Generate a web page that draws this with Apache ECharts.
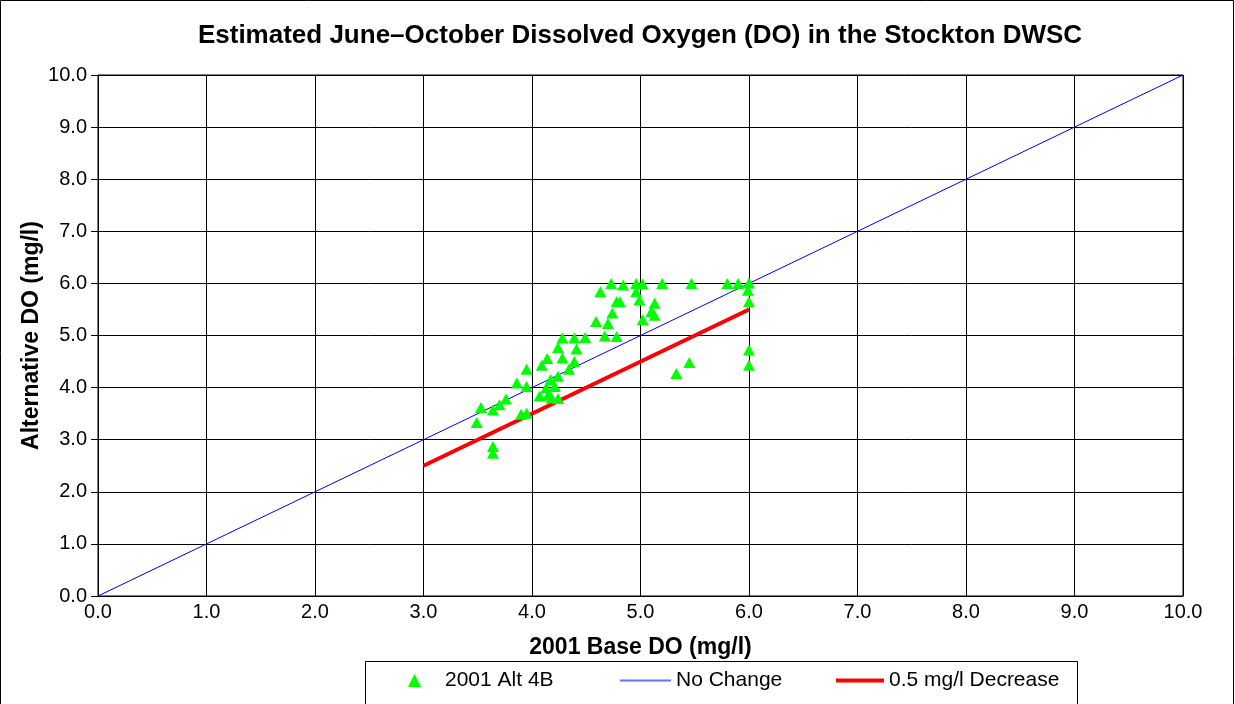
<!DOCTYPE html>
<html>
<head>
<meta charset="utf-8">
<script src="https://cdn.jsdelivr.net/npm/echarts@6/dist/echarts.min.js"></script>
<style>
  html, body { margin: 0; padding: 0; background: #fff; }
  #chart { width: 1235px; height: 704px; }
</style>
</head>
<body>
<div id="chart"></div>
<script>
// Axis tick values (mg/l)
const axisTicks = [0, 1, 2, 3, 4, 5, 6, 7, 8, 9, 10];

// 2001 Alt 4B: base DO (x) vs alternative DO (y)
const altBase = [
  4.73, 4.63, 4.78, 4.74, 4.59, 4.70, 4.67, 4.78, 4.49, 4.39,
  4.28, 4.24, 4.41, 4.28, 4.14, 4.09, 4.39, 4.34, 4.24, 3.95,
  3.86, 3.95, 4.17, 4.13, 4.21, 4.07, 4.15, 4.24, 4.18, 3.76,
  3.70, 3.64, 3.53, 3.49, 3.90, 3.95, 3.64, 3.64,
  4.84, 4.96, 5.02, 5.20, 5.47, 5.80, 5.90, 6.00, 5.99, 4.96,
  4.99, 4.81, 5.13, 5.10, 5.13, 5.02, 6.00, 6.00, 5.45, 5.33,
  6.00
];
const altValue = [
  6.00, 5.84, 5.65, 5.43, 5.27, 5.23, 4.99, 4.98, 4.96, 4.95,
  4.95, 4.77, 4.74, 4.57, 4.56, 4.43, 4.50, 4.35, 4.22, 4.35,
  4.09, 4.02, 4.15, 3.99, 4.02, 3.84, 3.86, 3.79, 3.80, 3.78,
  3.67, 3.57, 3.62, 3.33, 3.49, 3.51, 2.87, 2.74,
  5.97, 6.00, 5.99, 6.00, 6.00, 6.00, 6.00, 6.01, 5.87, 5.84,
  5.68, 5.65, 5.62, 5.46, 5.39, 5.30, 4.72, 4.43, 4.48, 4.27,
  5.65
];

// Reference lines
const noChangeBase = [0, 10];
const noChangeValue = [0, 10];
const decreaseBase = [3, 6];
const decreaseValue = [2.5, 5.5];

const zip = (xs, ys) => xs.map((x, i) => [x, ys[i]]);
const fmt = v => v.toFixed(1);
const FONT = '"Liberation Sans", Arial, sans-serif';

const chart = echarts.init(document.getElementById('chart'), null, { renderer: 'canvas' });

const legendText = extra => Object.assign(
  { fontFamily: FONT, fontSize: 21, color: '#000' }, extra);

const option = {
  backgroundColor: '#ffffff',
  animation: false,
  textStyle: { fontFamily: FONT, color: '#000' },
  title: {
    text: 'Estimated June\u2013October Dissolved Oxygen (DO) in the Stockton DWSC',
    left: 635,
    textAlign: 'center',
    top: 18,
    textStyle: { fontFamily: FONT, fontSize: 26, fontWeight: 'bold', color: '#000' }
  },
  grid: { left: 98, right: 52, top: 75, bottom: 108, containLabel: false,
          show: true, borderColor: '#000', borderWidth: 1 },
  xAxis: {
    type: 'value', min: axisTicks[0], max: axisTicks[axisTicks.length - 1], interval: 1,
    name: '2001 Base DO (mg/l)', nameLocation: 'middle', nameGap: 40,
    nameTextStyle: { fontFamily: FONT, fontSize: 23, fontWeight: 'bold', color: '#000' },
    axisLine: { lineStyle: { color: '#000', width: 1 } },
    axisTick: { show: false },
    axisLabel: { formatter: fmt, fontFamily: FONT, fontSize: 20, color: '#000', margin: 6 },
    splitLine: { show: true, lineStyle: { color: '#000', width: 1 } }
  },
  yAxis: {
    type: 'value', min: axisTicks[0], max: axisTicks[axisTicks.length - 1], interval: 1,
    name: 'Alternative DO (mg/l)', nameLocation: 'middle', nameGap: 55,
    nameMoveOverlap: false,
    nameTextStyle: { fontFamily: FONT, fontSize: 23, fontWeight: 'bold', color: '#000' },
    axisLine: { show: true, lineStyle: { color: '#000', width: 1 } },
    axisTick: { show: true, length: 7, lineStyle: { color: '#000' } },
    axisLabel: { formatter: fmt, fontFamily: FONT, fontSize: 20, color: '#000', margin: 11 },
    splitLine: { show: true, lineStyle: { color: '#000', width: 1 } }
  },
  legend: [
    {
      data: [{ name: '2001 Alt 4B', icon: 'triangle' }],
      left: 408, top: 670, padding: 0, itemWidth: 13, itemHeight: 13,
      textStyle: legendText({ padding: [0, 0, 0, 19] })
    },
    {
      data: [{ name: 'No Change', icon: 'rect', itemStyle: { color: '#6f6fff' } }],
      left: 620, top: 670, padding: 0, itemWidth: 51, itemHeight: 2,
      textStyle: legendText({ padding: [0, 0, 0, 0] })
    },
    {
      data: [{ name: '0.5 mg/l Decrease', icon: 'rect', itemStyle: { color: '#ff0000' } }],
      left: 836, top: 670, padding: 0, itemWidth: 48, itemHeight: 4,
      textStyle: legendText({ padding: [0, 0, 0, 0] })
    }
  ],
  graphic: [
    { type: 'rect', shape: { x: 0.5, y: 0.5, width: 1233, height: 720 },
      style: { fill: 'none', stroke: '#000', lineWidth: 1 }, silent: true },
    { type: 'rect', shape: { x: 365.5, y: 661.5, width: 712, height: 60 },
      style: { fill: '#fff', stroke: '#000', lineWidth: 1 }, z: -1, silent: true }
  ],
  series: [
    {
      name: 'No Change', type: 'line', data: zip(noChangeBase, noChangeValue),
      symbol: 'none', lineStyle: { color: '#0000ff', width: 1 }, itemStyle: { color: '#0000ff' },
      z: 2, clip: false
    },
    {
      name: '0.5 mg/l Decrease', type: 'line', data: zip(decreaseBase, decreaseValue),
      symbol: 'none', lineStyle: { color: '#ff0000', width: 4 }, itemStyle: { color: '#ff0000' },
      z: 3
    },
    {
      name: '2001 Alt 4B', type: 'scatter', data: zip(altBase, altValue),
      symbol: 'triangle', symbolSize: [12, 11],
      itemStyle: { color: '#00ff00', opacity: 1 },
      z: 4
    }
  ]
};

chart.setOption(option);
</script>
</body>
</html>
